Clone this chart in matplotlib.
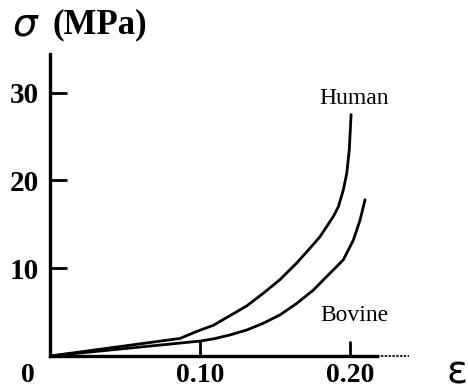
import matplotlib
matplotlib.use("Agg")
import matplotlib.pyplot as plt

# Data (strain, stress in MPa)
human_strain = [0.0, 0.0867, 0.0978, 0.1089, 0.120, 0.1311, 0.1422, 0.1533,
                0.1645, 0.1755, 0.180, 0.1889, 0.1922, 0.1955, 0.1978, 0.1995, 0.2007]
human_stress = [0.0, 2.0, 2.8, 3.5, 4.6, 5.7, 7.15, 8.7,
                10.6, 12.7, 13.6, 15.9, 17.0, 18.9, 20.8, 23.5, 27.5]
bovine_strain = [0.0, 0.100, 0.1089, 0.120, 0.1311, 0.1422, 0.1533, 0.1645,
                 0.1755, 0.1822, 0.1955, 0.2022, 0.2067, 0.210]
bovine_stress = [0.0, 1.7, 1.95, 2.4, 2.96, 3.73, 4.68, 6.0,
                 7.5, 8.67, 10.95, 13.2, 15.5, 17.8]
x_ticks = [0.10, 0.20]
x_tick_labels = ["0.10", "0.20"]
y_ticks = [10, 20, 30]
y_tick_labels = ["10", "20", "30"]

W, H = 468, 391
fig = plt.figure(figsize=(W / 100, H / 100), dpi=100)
ax = fig.add_axes([50 / W, (H - 356) / H, (409 - 50) / W, (356 - 54) / H])

ax.plot(human_strain, human_stress, color="black", lw=2.0,
        solid_capstyle="round", solid_joinstyle="round")
ax.plot(bovine_strain, bovine_stress, color="black", lw=2.0,
        solid_capstyle="round", solid_joinstyle="round")

ax.set_xlim(0, 0.2393)
ax.set_ylim(0, 34.4)

for s in ["top", "right"]:
    ax.spines[s].set_visible(False)
ax.spines["left"].set_linewidth(2.4)
ax.spines["bottom"].set_linewidth(2.4)
ax.spines["bottom"].set_bounds(0, 0.218)
ax.plot([0.218, 0.2393], [0, 0], color="black", lw=1.2, ls=(0, (1.5, 0.8)),
        clip_on=False)

serif_bold = dict(family="Liberation Serif", weight="bold")
ax.set_xticks(x_ticks)
ax.set_xticklabels(x_tick_labels, fontsize=20, **serif_bold)
ax.set_yticks(y_ticks)
ax.set_yticklabels(y_tick_labels, fontsize=21, **serif_bold)
ax.tick_params(axis="x", direction="in", length=11, width=2, pad=5)
ax.tick_params(axis="y", direction="in", length=12, width=2, pad=8)

ax.text(0.2027, 29.3, "Human", fontsize=17, family="Liberation Serif",
        ha="center", va="center")
ax.text(0.2027, 4.6, "Bovine", fontsize=17, family="Liberation Serif",
        ha="center", va="center")

# origin label and axis titles
fig.text(28 / W, 1 - 375 / H, "0", fontsize=20, ha="center", va="center", **serif_bold)
fig.text(13 / W, 1 - 36 / H, "σ", fontsize=28, family="DejaVu Sans",
         style="italic", ha="left", va="baseline")
fig.text(52 / W, 1 - 25 / H, "(MPa)", fontsize=25, ha="left", va="center", **serif_bold)
fig.text(457 / W, 1 - 373 / H, "ε", fontsize=28, family="DejaVu Sans",
         ha="center", va="center")

fig.savefig("out.png", dpi=100)
